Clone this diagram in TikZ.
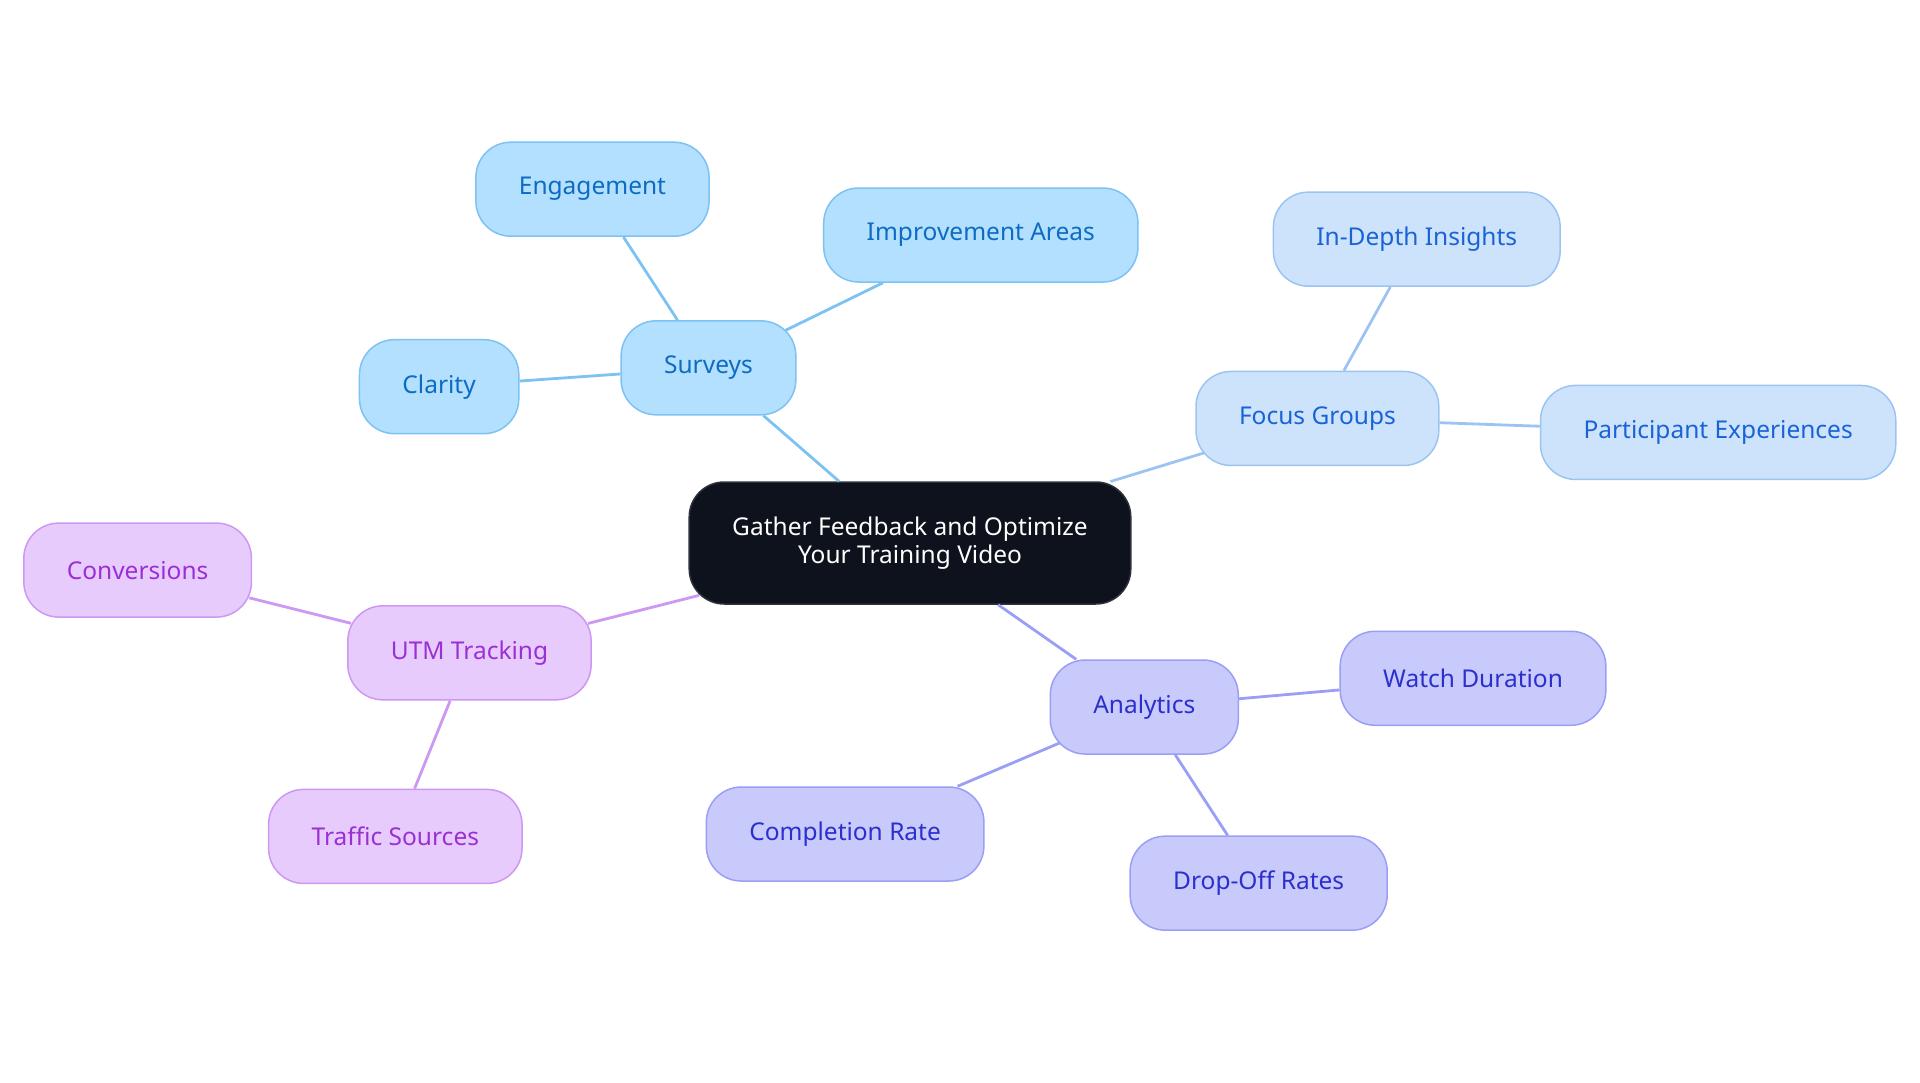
\documentclass[tikz,border=0pt]{standalone}
\usepackage{fontspec}
\setmainfont{Noto Sans}
\usetikzlibrary{trees}

\definecolor{rootfill}{HTML}{0D121C}
\definecolor{rootline}{HTML}{2C323C}
\definecolor{surveyfill}{HTML}{B3E0FE}
\definecolor{surveyline}{HTML}{7CC2F2}
\definecolor{surveytext}{HTML}{0D6BC2}
\definecolor{focusfill}{HTML}{CCE3FB}
\definecolor{focusline}{HTML}{9CC4F2}
\definecolor{focustext}{HTML}{1A63D6}
\definecolor{analyticsfill}{HTML}{C8CAFC}
\definecolor{analyticsline}{HTML}{9A9EF5}
\definecolor{analyticstext}{HTML}{2B2FCC}
\definecolor{utmfill}{HTML}{E8CBFD}
\definecolor{utmline}{HTML}{CC98F3}
\definecolor{utmtext}{HTML}{9A2FD6}

\begin{document}
\begin{tikzpicture}[
        x=1pt, y=1pt,
        sibling distance=0pt,
        every node/.style={draw, rectangle, rounded corners=35pt, minimum height=94pt, inner xsep=43pt, line width=1.5pt, font=\fontsize{24.5}{28.5}\selectfont},
        rootnode/.style={fill=rootfill, draw=rootline, text=white, minimum height=122pt, align=center},
        surveys/.style={every node/.append style={fill=surveyfill, draw=surveyline, text=surveytext}, edge from parent/.style={draw=surveyline, line width=2.8pt}},
        focus/.style={every node/.append style={fill=focusfill, draw=focusline, text=focustext}, edge from parent/.style={draw=focusline, line width=2.8pt}},
        analytics/.style={every node/.append style={fill=analyticsfill, draw=analyticsline, text=analyticstext}, edge from parent/.style={draw=analyticsline, line width=2.8pt}},
        utm/.style={every node/.append style={fill=utmfill, draw=utmline, text=utmtext}, edge from parent/.style={draw=utmline, line width=2.8pt}},
        % reach the rounded corner instead of the box corner
        reach/.style 2 args={edge from parent/.append style={shorten <=-#1pt, shorten >=-#2pt}}
    ]
    \useasboundingbox (0,0) rectangle (1920,-1083);
    \node [rootnode] (root) at (910,-543) {Gather Feedback and Optimize\\Your Training Video}
        child [surveys, grow=139.9, level distance=267pt] {
            node (surveys) {Surveys}
            child [grow=123.7, level distance=213pt] {
                node (engagement) {Engagement}
            }
            child [grow=26.1, level distance=303pt, reach={13}{0}] {
                node (improvement) {Improvement Areas}
            }
            child [grow=184.7, level distance=270pt] {
                node (clarity) {Clarity}
            }
        }
        child [focus, grow=17.8, level distance=426pt, reach={1}{10}] {
            node (focusgroups) {Focus Groups}
            child [grow=61.1, level distance=205pt, reach={0}{0}] {
                node (insights) {In-Depth Insights}
            }
            child [grow=-2.7, level distance=401pt, reach={0}{0}] {
                node (experiences) {Participant Experiences}
            }
        }
        child [analytics, grow=-35.2, level distance=286pt] {
            node (analytics) {Analytics}
            child [grow=5.0, level distance=330pt] {
                node (watch) {Watch Duration}
            }
            child [grow=-57.5, level distance=210pt] {
                node (dropoff) {Drop-Off Rates}
            }
            child [grow=-157.2, level distance=325pt, reach={11}{0}] {
                node (completion) {Completion Rate}
            }
        }
        child [utm, grow=-166.4, level distance=454pt, reach={11}{4}] {
            node (utmtracking) {UTM Tracking}
            child [grow=166.7, level distance=342pt, reach={4}{3}] {
                node (conversions) {Conversions}
            }
            child [grow=-112.6, level distance=198pt, reach={0}{0}] {
                node (traffic) {Traffic Sources}
            }
        };
\end{tikzpicture}
\end{document}
